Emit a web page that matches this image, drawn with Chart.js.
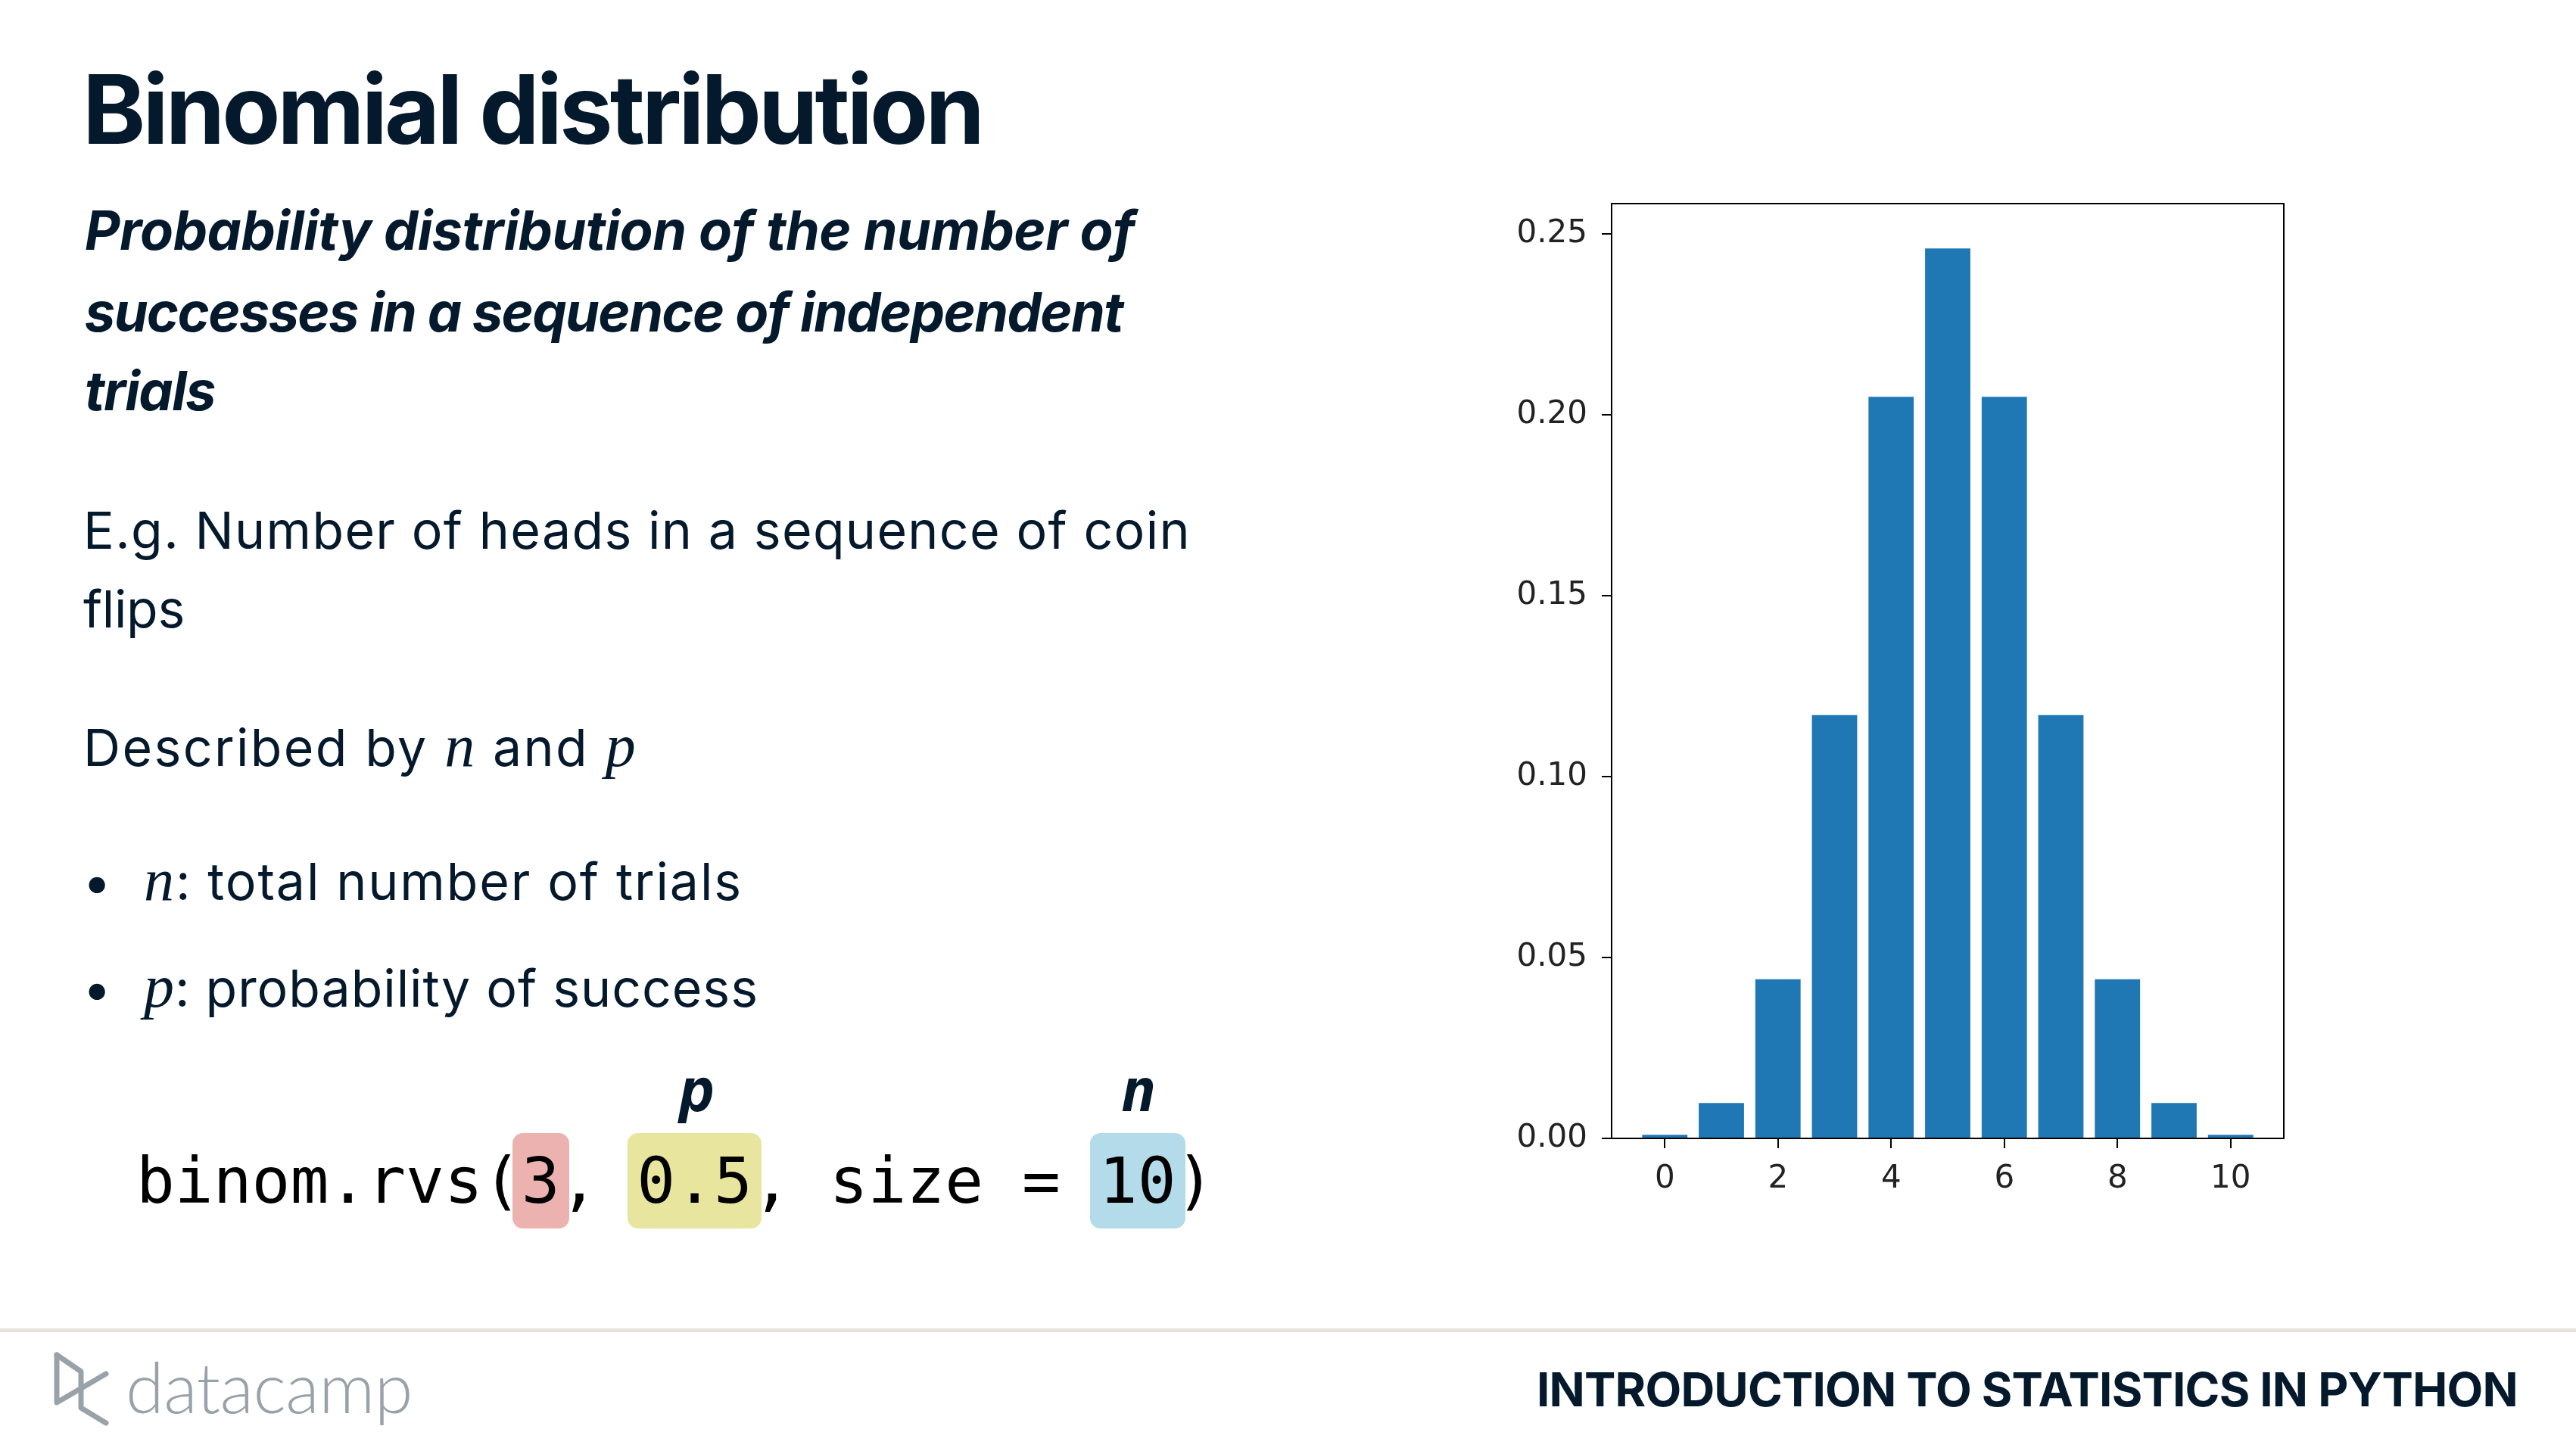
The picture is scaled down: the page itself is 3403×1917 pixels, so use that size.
<!DOCTYPE html>
<html>
<head>
<meta charset="utf-8">
<script src="https://cdn.jsdelivr.net/npm/chart.js@4"></script>
<style>
  html, body { margin: 0; padding: 0; background: #fff; }
  body { width: 3403px; height: 1917px; position: relative; overflow: hidden; color: #05192d; }
  .t { position: absolute; white-space: nowrap; line-height: 1; }
  .m { font-family: "Liberation Serif", serif; font-style: italic; font-weight: 400; }
  .code { font-family: "DejaVu Sans Mono", monospace; color: #000; }
  .hl { border-radius: 14px; padding: 0.17em 12px; margin: 0 -12px; }
  #chartBox { position: absolute; left: 1900px; top: 200px; width: 1200px; height: 1450px; }
  #rule { position: absolute; left: 0; top: 1755px; width: 3403px; height: 5px; background: #e6e2dc; }
</style>
</head>
<body>

<div class="t" data-x="109" data-b="190" data-w="1188" style="font: 700 126px Inter;">Binomial distribution</div>

<div class="t" data-x="112" data-b="330" data-w="1387" style="font: italic 700 72px Inter;">Probability distribution of the number of</div>
<div class="t" data-x="112" data-b="438" data-w="1371" style="font: italic 700 72px Inter;">successes in a sequence of independent</div>
<div class="t" data-x="112" data-b="542" data-w="172" style="font: italic 700 72px Inter;">trials</div>

<div class="t" data-x="110" data-b="725" data-w="1463" style="font: 400 68px Inter;">E.g. Number of heads in a sequence of coin</div>
<div class="t" data-x="110" data-b="829" data-w="134" style="font: 400 68px Inter;">flips</div>

<div class="t" data-x="110" data-b="1012" data-w="732" style="font: 400 68px Inter;">Described by <span class="m" style="font-size:80px">n</span> and <span class="m" style="font-size:80px">p</span></div>

<div class="t" data-x="109" data-b="1189" style="font: 400 68px Inter;">&bull;</div>
<div class="t" data-x="190" data-b="1189" data-w="791" style="font: 400 68px Inter;"><span class="m" style="font-size:80px">n</span>: total number of trials</div>
<div class="t" data-x="109" data-b="1330" style="font: 400 68px Inter;">&bull;</div>
<div class="t" data-x="190" data-b="1330" data-w="812" style="font: 400 68px Inter;"><span class="m" style="font-size:80px">p</span>: probability of success</div>

<div class="t" data-cx="920" data-b="1468" style="font: italic 700 78px 'DejaVu Sans Mono';">p</div>
<div class="t" data-cx="1504" data-b="1468" style="font: italic 700 78px 'DejaVu Sans Mono';">n</div>

<div class="t code" data-x="180" data-b="1589" style="font-size: 84.5px;">binom.rvs(<span class="hl" style="background:#ebb2b0">3</span>, <span class="hl" style="background:#e8e59e">0.5</span>, size = <span class="hl" style="background:#b3dbea">10</span>)</div>

<div id="chartBox"><canvas id="binomChart"></canvas></div>

<div id="rule"></div>

<svg style="position:absolute;left:0;top:0" width="600" height="1917">
  <g fill="none" stroke="#9aa2a9" stroke-width="7" stroke-linejoin="round" stroke-linecap="round">
    <path d="M75,1790 L75,1853 L140,1815"/>
    <path d="M75,1790 L107,1812 L107,1860 L140,1880"/>
  </g>
</svg>
<div class="t" data-x="166" data-b="1867" data-w="379" style="font: 300 92px Lato; color: #9aa2a9;">datacamp</div>

<div class="t" data-x="2030" data-b="1858" data-w="1296" style="font: 700 62px Inter;">INTRODUCTION TO STATISTICS IN PYTHON</div>

<script>
// binomial pmf, n = 10, p = 0.5
const outcomes = [0, 1, 2, 3, 4, 5, 6, 7, 8, 9, 10];
const probs = [0.001, 0.0098, 0.044, 0.117, 0.205, 0.246, 0.205, 0.117, 0.044, 0.0098, 0.001];
const xTicks = [0, 2, 4, 6, 8, 10];
const yTicks = [0, 0.05, 0.1, 0.15, 0.2, 0.25];

function placeText() {
  document.querySelectorAll(".t").forEach((el) => {
    if (el.dataset.w) {
      const r = document.createRange();
      r.selectNodeContents(el);
      const cur = r.getBoundingClientRect().width;
      const n = el.textContent.length;
      el.style.letterSpacing = (parseFloat(el.dataset.w) - cur) / n + "px";
    }
    const mark = document.createElement("span");
    mark.style.cssText = "display:inline-block;width:0;height:0;vertical-align:baseline;";
    el.appendChild(mark);
    el.style.top = "0px";
    el.style.left = "0px";
    const base = mark.getBoundingClientRect().top;
    el.style.top = parseFloat(el.dataset.b) - base + "px";
    if (el.dataset.cx) {
      el.style.left = parseFloat(el.dataset.cx) - el.getBoundingClientRect().width / 2 + "px";
    } else {
      el.style.left = el.dataset.x + "px";
    }
  });
}

const frame = {
  id: "frame",
  afterDraw(chart) {
    const a = chart.chartArea;
    const ctx = chart.ctx;
    ctx.save();
    ctx.strokeStyle = "#000";
    ctx.lineWidth = 2;
    ctx.strokeRect(a.left, a.top, a.right - a.left, a.bottom - a.top);
    ctx.restore();
  },
};

function drawChart() {
  const ctx = document.getElementById("binomChart").getContext("2d");
  new Chart(ctx, {
    type: "bar",
    data: {
      datasets: [
        {
          data: outcomes.map((k, i) => ({ x: k, y: probs[i] })),
          backgroundColor: "#1f77b4",
          borderWidth: 0,
          categoryPercentage: 0.8,
          barPercentage: 1.0,
        },
      ],
    },
    options: {
      responsive: true,
      maintainAspectRatio: false,
      animation: false,
      devicePixelRatio: 1,
      layout: { padding: { top: 69, right: 83, left: 0, bottom: 0 } },
      plugins: { legend: { display: false }, tooltip: { enabled: false } },
      scales: {
        x: {
          type: "linear",
          offset: false,
          min: -0.94,
          max: 10.94,
          afterBuildTicks: (s) => { s.ticks = xTicks.map((v) => ({ value: v })); },
          afterFit: (s) => { s.height = 146; },
          grid: { offset: false, drawOnChartArea: false, tickLength: 13, color: "#000", lineWidth: 2 },
          border: { color: "#000", width: 2 },
          ticks: {
            padding: 16,
            color: "#222",
            font: { family: "DejaVu Sans", size: 42 },
            callback: (v) => String(v),
          },
        },
        y: {
          min: 0,
          max: 0.2584,
          afterBuildTicks: (s) => { s.ticks = yTicks.map((v) => ({ value: v })); },
          afterFit: (s) => { s.width = 229; },
          grid: { drawOnChartArea: false, tickLength: 13, color: "#000", lineWidth: 2 },
          border: { color: "#000", width: 2 },
          ticks: {
            padding: 19,
            color: "#222",
            font: { family: "DejaVu Sans", size: 42 },
            callback: (v) => v.toFixed(2),
          },
        },
      },
    },
    plugins: [frame],
  });
}

document.fonts.ready.then(() => {
  placeText();
  drawChart();
});
</script>
</body>
</html>
